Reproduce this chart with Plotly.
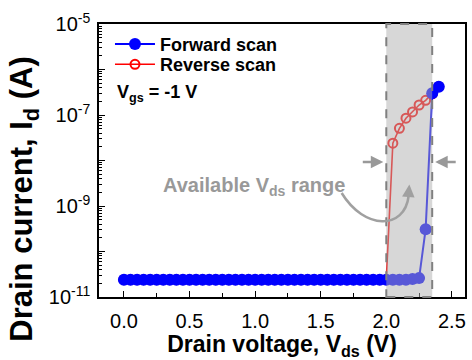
import plotly.graph_objects as go

# ---------------- data ----------------
fwd_v = [0.00, 0.05, 0.10, 0.15, 0.20, 0.25, 0.30, 0.35, 0.40, 0.45,
         0.50, 0.55, 0.60, 0.65, 0.70, 0.75, 0.80, 0.85, 0.90, 0.95,
         1.00, 1.05, 1.10, 1.15, 1.20, 1.25, 1.30, 1.35, 1.40, 1.45,
         1.50, 1.55, 1.60, 1.65, 1.70, 1.75, 1.80, 1.85, 1.90, 1.95,
         2.00, 2.05, 2.10, 2.15, 2.20, 2.25, 2.30, 2.35, 2.40]
fwd_i = [2.4e-11, 2.4e-11, 2.4e-11, 2.4e-11, 2.4e-11, 2.4e-11, 2.4e-11, 2.4e-11, 2.4e-11, 2.4e-11,
         2.4e-11, 2.4e-11, 2.4e-11, 2.4e-11, 2.4e-11, 2.4e-11, 2.4e-11, 2.4e-11, 2.4e-11, 2.4e-11,
         2.4e-11, 2.4e-11, 2.4e-11, 2.4e-11, 2.4e-11, 2.4e-11, 2.4e-11, 2.4e-11, 2.4e-11, 2.4e-11,
         2.4e-11, 2.4e-11, 2.4e-11, 2.4e-11, 2.4e-11, 2.4e-11, 2.4e-11, 2.4e-11, 2.4e-11, 2.4e-11,
         2.4e-11, 2.4e-11, 2.4e-11, 2.4e-11, 2.5e-11, 2.6e-11, 3.1e-10, 3.0e-7, 4.2e-7]

rev_v = [0.00, 0.05, 0.10, 0.15, 0.20, 0.25, 0.30, 0.35, 0.40, 0.45,
         0.50, 0.55, 0.60, 0.65, 0.70, 0.75, 0.80, 0.85, 0.90, 0.95,
         1.00, 1.05, 1.10, 1.15, 1.20, 1.25, 1.30, 1.35, 1.40, 1.45,
         1.50, 1.55, 1.60, 1.65, 1.70, 1.75, 1.80, 1.85, 1.90, 1.95,
         2.00, 2.05, 2.10, 2.15, 2.20, 2.25, 2.30, 2.35, 2.40]
rev_i = [2.4e-11, 2.4e-11, 2.4e-11, 2.4e-11, 2.4e-11, 2.4e-11, 2.4e-11, 2.4e-11, 2.4e-11, 2.4e-11,
         2.4e-11, 2.4e-11, 2.4e-11, 2.4e-11, 2.4e-11, 2.4e-11, 2.4e-11, 2.4e-11, 2.4e-11, 2.4e-11,
         2.4e-11, 2.4e-11, 2.4e-11, 2.4e-11, 2.4e-11, 2.4e-11, 2.4e-11, 2.4e-11, 2.4e-11, 2.4e-11,
         2.4e-11, 2.4e-11, 2.4e-11, 2.4e-11, 2.4e-11, 2.4e-11, 2.4e-11, 2.4e-11, 2.4e-11, 2.4e-11,
         2.4e-11, 2.4e-8, 5.1e-8, 8.5e-8, 1.17e-7, 1.66e-7, 2.1e-7, 2.9e-7, 4.2e-7]

available_range = [2.0, 2.35]

x_tickvals = [0.0, 0.5, 1.0, 1.5, 2.0, 2.5]
x_ticktext = ["0.0", "0.5", "1.0", "1.5", "2.0", "2.5"]
x_minor = [0.25, 0.75, 1.25, 1.75, 2.25]

y_tickvals = [1e-11, 1e-10, 1e-9, 1e-8, 1e-7, 1e-6, 1e-5]
y_ticktext = ["10<sup>-11</sup>", "", "10<sup>-9</sup>", "", "10<sup>-7</sup>", "", "10<sup>-5</sup>"]
y_minor = [m * d for d in [1e-11, 1e-10, 1e-9, 1e-8, 1e-7, 1e-6] for m in [2, 3, 4, 5, 6, 7, 8, 9]]

FONT = "Liberation Sans, Arial, sans-serif"

fig = go.Figure()

fig.add_trace(go.Scatter(
    x=rev_v, y=rev_i, name="<b>Reverse scan</b>", mode="lines+markers", legend="legend2",
    line=dict(color="#ff0000", width=1.6),
    marker=dict(symbol="circle-open", size=9, color="#ff0000", line=dict(width=2, color="#ff0000")),
))
fig.add_trace(go.Scatter(
    x=fwd_v, y=fwd_i, name="<b>Forward scan</b>", mode="lines+markers", legend="legend",
    line=dict(color="#0000ff", width=2),
    marker=dict(symbol="circle", size=12, color="#0000ff"),
))

# shaded "available range" band, drawn above the data
fig.add_shape(type="rect", xref="x", yref="paper",
              x0=available_range[0], x1=available_range[1], y0=0, y1=1,
              fillcolor="rgba(175,175,175,0.5)",
              line=dict(color="#808080", width=2, dash="dash"), layer="above")

# curved arrow
fig.add_shape(type="path", xref="paper", yref="paper",
              path="M0.663,0.381 C0.725,0.245 0.835,0.245 0.846,0.370",
              line=dict(color="#a0a0a0", width=2.5), layer="above")
fig.add_annotation(xref="paper", yref="paper", x=0.848, y=0.412, ax=-1, ay=12,
                   axref="pixel", ayref="pixel", text="", showarrow=True,
                   arrowhead=2, arrowsize=1, arrowwidth=2.5, arrowcolor="#a0a0a0")

# horizontal arrows marking the range edges
fig.add_annotation(xref="x", yref="paper", x=available_range[0], y=0.4945, xshift=-3,
                   ax=-22, ay=0, text="", showarrow=True,
                   arrowhead=2, arrowsize=1, arrowwidth=2.5, arrowcolor="#999999")
fig.add_annotation(xref="x", yref="paper", x=available_range[1], y=0.4945, xshift=3,
                   ax=22, ay=0, text="", showarrow=True,
                   arrowhead=2, arrowsize=1, arrowwidth=2.5, arrowcolor="#999999")

fig.add_annotation(xref="paper", yref="paper", x=0.424, y=0.405, xanchor="center", yanchor="middle",
                   text="<b>Available V<sub>ds</sub> range</b>", showarrow=False,
                   font=dict(family=FONT, size=20, color="#999999"))

fig.add_annotation(xref="paper", yref="paper", x=0.043, y=0.745, xanchor="left", yanchor="middle",
                   text="<b>V<sub>gs</sub> = -1 V</b>", showarrow=False,
                   font=dict(family=FONT, size=18, color="#000000"))

# y-axis title as annotation (positioned as in the reference)
fig.add_annotation(xref="paper", yref="paper", x=-0.205, y=0.36, xanchor="center", yanchor="middle",
                   text="<b>Drain current, I<sub>d</sub> (A)</b>", textangle=-90, showarrow=False,
                   font=dict(family=FONT, size=31, color="#000000"))

legend_style = dict(xanchor="left", yanchor="top", bgcolor="rgba(0,0,0,0)",
                    font=dict(family=FONT, size=18, color="black"), itemwidth=40)

fig.update_layout(
    width=472, height=360,
    margin=dict(l=99, r=5, t=24, b=63),
    paper_bgcolor="white", plot_bgcolor="white",
    font=dict(family=FONT, color="black"),
    showlegend=True,
    legend=dict(x=0.03, y=0.993, **legend_style),
    legend2=dict(x=0.03, y=0.919, **legend_style),
)

fig.update_xaxes(
    range=[-0.19, 2.60], showgrid=False, zeroline=False,
    showline=True, linecolor="black", linewidth=1.5, mirror=True,
    ticks="inside", ticklen=6, tickwidth=1.3, tickcolor="black",
    tickvals=x_tickvals, ticktext=x_ticktext,
    tickfont=dict(family=FONT, size=20, color="black"),
    ticklabelstandoff=5,
    minor=dict(tickvals=x_minor, ticks="inside", ticklen=4, tickwidth=1.2, tickcolor="black"),
    title=dict(text="<b>Drain voltage, V<sub>ds</sub> (V)</b>",
               font=dict(family=FONT, size=23, color="black"), standoff=4),
)
fig.update_yaxes(
    type="log", range=[-11, -5], showgrid=False, zeroline=False,
    showline=True, linecolor="black", linewidth=1.5, mirror=True,
    ticks="inside", ticklen=6, tickwidth=1.3, tickcolor="black",
    tickvals=y_tickvals, ticktext=y_ticktext,
    tickfont=dict(family=FONT, size=20, color="black"),
    ticklabelstandoff=3,
    minor=dict(tickvals=y_minor, ticks="inside", ticklen=3, tickwidth=1, tickcolor="black"),
)

fig.write_html("out.html")
